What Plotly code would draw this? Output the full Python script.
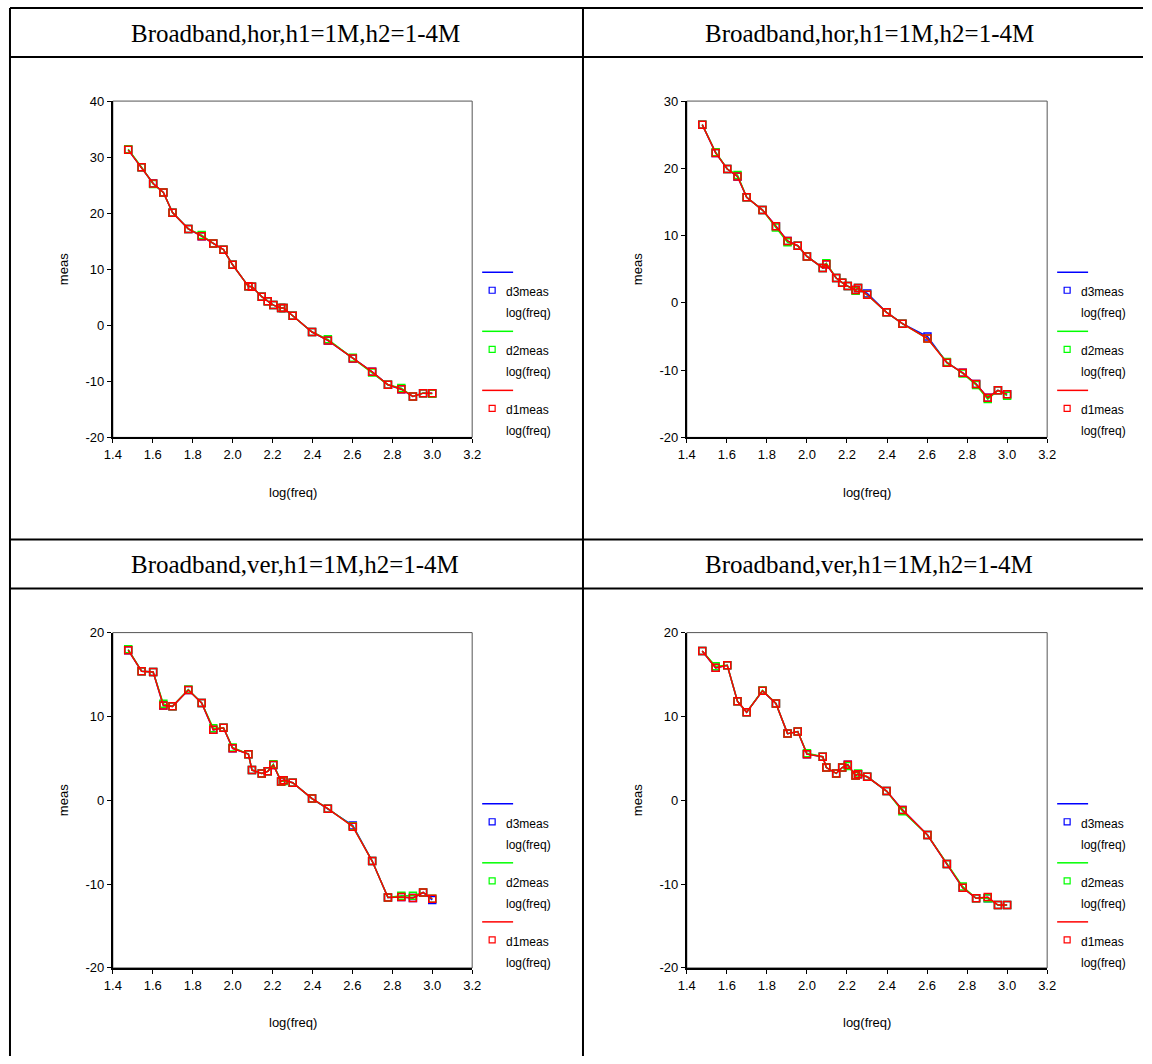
import numpy as np
import plotly.graph_objects as go

W, H = 1152, 1064
# the returned photo shows the page shrunk into an 8px frame; layout numbers below
# are photo pixels and get mapped back to page pixels
SX, SY, OFF = 1136 / 1152, 1048 / 1064, 8

# frequencies (x axis is log10 of these)
freq = [30, 35, 40, 45, 50, 60, 70, 80, 90, 100, 120, 125, 140, 150, 160, 175, 180,
        200, 250, 300, 400, 500, 600, 700, 800, 900, 1000]

titles = ["Broadband,hor,h1=1M,h2=1-4M", "Broadband,hor,h1=1M,h2=1-4M",
          "Broadband,ver,h1=1M,h2=1-4M", "Broadband,ver,h1=1M,h2=1-4M"]

# top left
a_d1 = [31.3, 28.2, 25.3, 23.7, 20.1, 17.2, 15.9, 14.6, 13.5, 10.8, 6.95, 6.9, 5.1, 4.3,
        3.6, 3.1, 3.1, 1.7, -1.2, -2.7, -5.9, -8.3, -10.6, -11.4, -12.7, -12.1, -12.1]
a_d2 = [31.4, 28.2, 25.2, 23.7, 20.1, 17.2, 16.1, 14.6, 13.5, 10.8, 6.95, 6.9, 5.1, 4.3,
        3.6, 3.1, 3.1, 1.7, -1.2, -2.5, -5.8, -8.4, -10.6, -11.2, -12.7, -12.1, -12.2]
a_d3 = [31.3, 28.2, 25.3, 23.7, 20.1, 17.2, 15.9, 14.6, 13.5, 10.8, 6.95, 6.9, 5.1, 4.3,
        3.6, 3.1, 3.1, 1.7, -1.2, -2.7, -5.9, -8.3, -10.6, -11.4, -12.7, -12.1, -12.1]
# top right
b_d1 = [26.5, 22.3, 19.9, 18.8, 15.7, 13.8, 11.4, 9.2, 8.5, 6.9, 5.2, 5.75, 3.7, 3.0,
        2.5, 1.9, 2.2, 1.2, -1.4, -3.1, -5.3, -8.9, -10.4, -12.05, -14.1, -13.0, -13.6]
b_d2 = [26.5, 22.4, 19.9, 19.0, 15.7, 13.8, 11.2, 9.0, 8.5, 6.9, 5.2, 5.9, 3.7, 3.0,
        2.5, 1.8, 2.2, 1.2, -1.4, -3.1, -5.3, -8.8, -10.5, -12.2, -14.3, -13.0, -13.8]
b_d3 = [26.5, 22.3, 19.9, 18.8, 15.7, 13.8, 11.4, 9.2, 8.5, 6.9, 5.2, 5.75, 3.7, 3.0,
        2.5, 1.9, 2.2, 1.4, -1.4, -3.1, -5.0, -8.9, -10.4, -12.05, -14.1, -13.0, -13.6]
# bottom left
c_d1 = [17.9, 15.4, 15.3, 11.3, 11.2, 13.15, 11.6, 8.4, 8.65, 6.2, 5.5, 3.6, 3.2, 3.45,
        4.2, 2.25, 2.4, 2.1, 0.2, -1.0, -3.15, -7.25, -11.6, -11.55, -11.65, -11.0, -11.75]
c_d2 = [18.0, 15.4, 15.3, 11.5, 11.2, 13.2, 11.6, 8.6, 8.65, 6.3, 5.5, 3.6, 3.2, 3.45,
        4.3, 2.25, 2.3, 2.1, 0.2, -1.0, -3.1, -7.25, -11.6, -11.4, -11.4, -11.0, -11.75]
c_d3 = [17.9, 15.4, 15.3, 11.3, 11.2, 13.15, 11.6, 8.4, 8.65, 6.2, 5.5, 3.6, 3.2, 3.45,
        4.2, 2.25, 2.4, 2.1, 0.2, -1.0, -3.0, -7.25, -11.6, -11.55, -11.65, -11.0, -11.9]
# bottom right
d_d1 = [17.8, 15.8, 16.1, 11.8, 10.5, 13.05, 11.55, 7.95, 8.2, 5.5, 5.2, 3.9, 3.2, 3.9,
        4.25, 2.95, 3.1, 2.8, 1.1, -1.15, -4.15, -7.6, -10.45, -11.7, -11.55, -12.5, -12.5]
d_d2 = [17.8, 16.0, 16.1, 11.8, 10.5, 13.1, 11.55, 7.95, 8.2, 5.6, 5.2, 3.9, 3.2, 3.9,
        4.1, 2.95, 3.2, 2.8, 1.1, -1.3, -4.15, -7.6, -10.3, -11.7, -11.7, -12.5, -12.5]
d_d3 = [17.8, 15.8, 16.1, 11.8, 10.5, 13.05, 11.55, 7.95, 8.2, 5.5, 5.2, 3.9, 3.2, 3.9,
        4.25, 2.95, 3.1, 2.8, 1.1, -1.15, -4.15, -7.6, -10.45, -11.7, -11.7, -12.5, -12.5]

panels = [(a_d1, a_d2, a_d3), (b_d1, b_d2, b_d3), (c_d1, c_d2, c_d3), (d_d1, d_d2, d_d3)]
y_ranges = [(-20, 40), (-20, 30), (-20, 20), (-20, 20)]
x_ticks = [1.4, 1.6, 1.8, 2.0, 2.2, 2.4, 2.6, 2.8, 3.0, 3.2]
logf = np.log10(freq)


# photo pixel -> paper fraction
def px(x):
    return max(0.0, min(1.0, (x - OFF) / SX / W))


def py(y):
    return max(0.0, min(1.0, 1 - (y - OFF) / SY / H))


# plot areas in photo pixels: left, right, top, bottom
boxes = [(112, 472, 102, 438), (687, 1048, 102, 438),
         (112, 472, 633, 968), (687, 1048, 633, 968)]
cell_cx = [295, 870, 295, 870]
cell_cy = [34, 34, 565, 565]

tick_font = dict(family="Arial, Liberation Sans", size=13, color="black")
leg_font = dict(family="Arial, Liberation Sans", size=12, color="black")
fig = go.Figure()
shapes = []
annotations = []


def note(text, x, y, font, **kw):
    d = dict(text=text, x=px(x), y=py(y), xref="paper", yref="paper", showarrow=False,
             xanchor="center", yanchor="middle", font=font)
    d.update(kw)
    annotations.append(d)


for i, (d1, d2, d3) in enumerate(panels):
    n = "" if i == 0 else str(i + 1)
    L, R, T, B = boxes[i]
    for vals, col in [(d3, "#0000ff"), (d2, "#00ff00"), (d1, "#ff0000")]:
        fig.add_trace(go.Scatter(
            x=logf, y=vals, mode="lines+markers", xaxis="x" + n, yaxis="y" + n,
            line=dict(color=col, width=1.5),
            marker=dict(symbol="square-open", size=7, color=col, line=dict(width=1.5)),
            showlegend=False, hoverinfo="skip"))
    lo, hi = y_ranges[i]
    yt = list(range(lo, hi + 1, 10))
    fig.layout["xaxis" + n] = dict(
        domain=[px(L), px(R)], anchor="y" + n, range=[1.4, 3.2],
        tickvals=x_ticks, ticktext=["%.1f" % t for t in x_ticks],
        showline=True, linecolor="black", linewidth=2, ticks="outside",
        ticklen=4, tickcolor="black", showgrid=False, zeroline=False, tickfont=tick_font)
    fig.layout["yaxis" + n] = dict(
        domain=[py(B), py(T)], anchor="x" + n, range=[lo, hi],
        tickvals=yt, ticktext=[str(v) for v in yt],
        showline=True, linecolor="black", linewidth=2, ticks="outside",
        ticklen=4, tickcolor="black", showgrid=False, zeroline=False, tickfont=tick_font)
    # frame top/right
    shapes.append(dict(type="rect", xref="paper", yref="paper", x0=px(L), x1=px(R),
                       y0=py(B), y1=py(T), line=dict(color="#555555", width=1), layer="below"))
    # axis titles
    note("log(freq)", (L + R) / 2, B + 55, tick_font)
    note("meas", L - 50, (T + B) / 2, tick_font, textangle=-90)
    # cell title
    note(titles[i], cell_cx[i], cell_cy[i],
         dict(family="Liberation Serif, Times New Roman", size=25, color="black"))
    # legend
    for k, (name, col) in enumerate([("d3meas", "#0000ff"), ("d2meas", "#00ff00"),
                                     ("d1meas", "#ff0000")]):
        y0 = T + 171 + k * 59
        shapes.append(dict(type="line", xref="paper", yref="paper", x0=px(R + 10),
                           x1=px(R + 41), y0=py(y0), y1=py(y0), line=dict(color=col, width=1.5)))
        shapes.append(dict(type="rect", xref="paper", yref="paper", x0=px(R + 17),
                           x1=px(R + 23), y0=py(y0 + 15), y1=py(y0 + 21),
                           line=dict(color=col, width=1.2)))
        note(name, R + 32, y0 + 20, leg_font, xanchor="left")
        note("log(freq)", R + 32, y0 + 41, leg_font, xanchor="left")

# table lines (outer ones sit right at the page edge)
e = 1 / W
for yy in [9, 58, 540, 589]:
    yv = min(py(yy), 1 - 1 / H)
    shapes.append(dict(type="line", xref="paper", yref="paper", x0=e, x1=1,
                       y0=yv, y1=yv, line=dict(color="black", width=2)))
for xv in [e, px(583)]:
    shapes.append(dict(type="line", xref="paper", yref="paper", x0=xv, x1=xv,
                       y0=1 - 1 / H, y1=0, line=dict(color="black", width=2)))

fig.update_layout(width=W, height=H, margin=dict(l=0, r=0, t=0, b=0),
                  paper_bgcolor="white", plot_bgcolor="white", hovermode=False,
                  shapes=shapes, annotations=annotations)

fig.write_html("out.html", config={"displayModeBar": False},
               post_script="document.body.style.margin='0';")
